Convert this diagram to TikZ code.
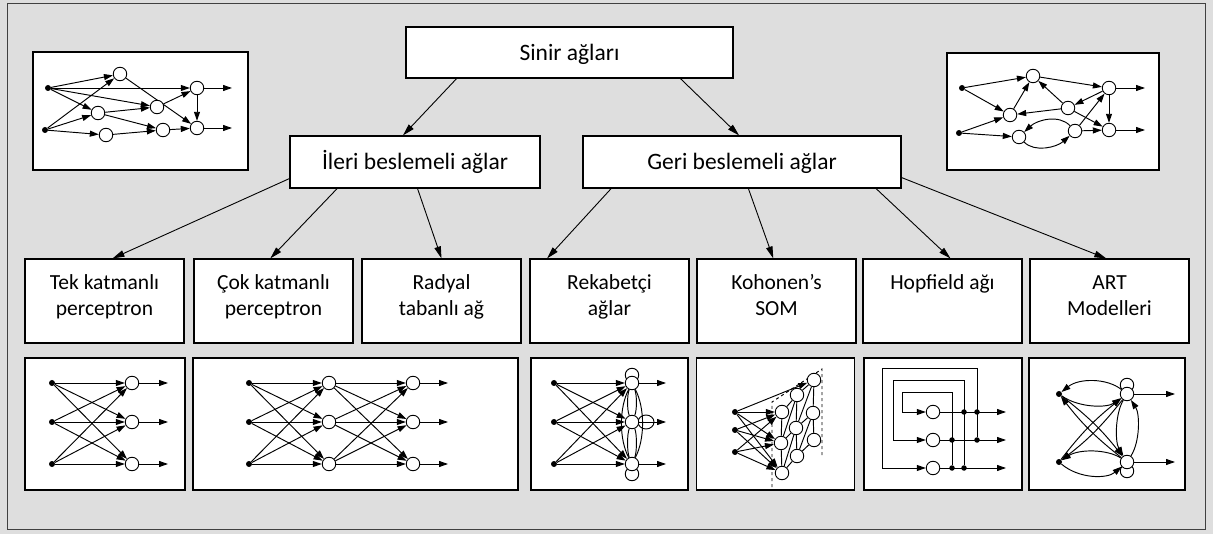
\documentclass[tikz,border=0pt]{standalone}
\usepackage{fontspec}
\setmainfont{Carlito}
\usetikzlibrary{arrows.meta,calc}
\definecolor{paper}{gray}{0.87}
\pgfdeclarelayer{back}
\pgfdeclarelayer{wires}
\pgfsetlayers{back,wires,main}
\tikzset{
  box/.style={draw=black, fill=white, line width=1.1pt, inner sep=0pt},
  toptxt/.style={font=\fontsize{23.5}{28}\selectfont, text height=15.1pt, text depth=0pt},
  lbltxt/.style={font=\fontsize{21.5}{26.4}\selectfont, align=center, inner sep=0pt, anchor=north},
  conn/.style={line width=0.9pt, -{Triangle[length=12pt,width=6.5pt]}},
  neu/.style={circle, draw, fill=white, line width=0.9pt, minimum size=13.5pt, inner sep=0pt},
  inp/.style={circle, fill=black, minimum size=6pt, inner sep=0pt},
  jdot/.style={circle, fill=black, minimum size=5.5pt, inner sep=0pt},
  ed/.style={line width=0.95pt, -{Triangle[length=9pt,width=6pt]}},
  ln/.style={line width=0.95pt},
}
\begin{document}
\begin{tikzpicture}[x=1pt,y=-1pt]
\useasboundingbox (0,0) rectangle (1213,534);

\begin{pgfonlayer}{back}
\fill[paper] (0,0) rectangle (1213,534);
\draw[line width=1pt, black!75] (7,4) rectangle (1205,529);

% hierarchy boxes
\node[box, toptxt, minimum width=327pt, minimum height=51pt] (root) at (569.5,52.5) {Sinir ağları};
\node[box, toptxt, minimum width=250pt, minimum height=52pt] (ileri) at (415,162) {İleri beslemeli ağlar};
\node[box, toptxt, minimum width=318pt, minimum height=52pt] (geri) at (742,162) {Geri beslemeli ağlar};

% category boxes
\foreach \n/\cx in {tek/104.5, cok/273.5, rad/441.5, rek/609.5, koh/776.5, hop/942.5, art/1109.5}
  \node[box, minimum width=159pt, minimum height=84pt] (\n) at (\cx,301) {};

% picture frames
\node[box, minimum width=215pt, minimum height=118pt] (ffbox) at (140.5,111) {};
\node[box, minimum width=212pt, minimum height=117pt] (fbbox) at (1053,111.5) {};
\node[box, minimum width=160pt, minimum height=132pt] (ptek) at (105,424) {};
\node[box, minimum width=325pt, minimum height=132pt] (pcok) at (355.5,424) {};
\node[box, minimum width=157pt, minimum height=132pt] (prek) at (609.5,424) {};
\node[box, minimum width=158pt, minimum height=132pt] (pkoh) at (775.5,424) {};
\node[box, minimum width=158pt, minimum height=132pt] (phop) at (943,424) {};
\node[box, minimum width=156pt, minimum height=132pt] (part) at (1107,424) {};
\end{pgfonlayer}

% category labels
\node[lbltxt] (ttek) at (104.5,270.5) {\strut Tek katmanlı\\perceptron};
\node[lbltxt] (tcok) at (273.5,270.5) {\strut Çok katmanlı\\perceptron};
\node[lbltxt] (trad) at (441.5,270.5) {\strut Radyal\\tabanlı ağ};
\node[lbltxt] (trek) at (609.5,270.5) {\strut Rekabetçi\\ağlar};
\node[lbltxt] (tkoh) at (776.5,270.5) {\strut Kohonen’s\\SOM};
\node[lbltxt] (thop) at (942.5,270.5) {\strut Hopfield ağı};
\node[lbltxt] (tart) at (1109.5,270.5) {\strut ART\\Modelleri};

% ---------- feed-forward sketch (top left) ----------
\node[inp] (fa1) at (48,88) {};
\node[inp] (fa2) at (45,130) {};
\node[neu] (fA) at (120,74) {};
\node[neu] (fB) at (98,113) {};
\node[neu] (fC) at (106,135) {};
\node[neu] (fD) at (157,107) {};
\node[neu] (fE) at (163,130) {};
\node[neu] (fF) at (197,88) {};
\node[neu] (fG) at (197,128) {};
\coordinate (fo1) at (232,88);
\coordinate (fo2) at (232,128);

% ---------- recurrent sketch (top right) ----------
\node[inp] (ba1) at (962,88) {};
\node[inp] (ba2) at (959,133) {};
\node[neu] (bP) at (1033,76) {};
\node[neu] (bQ) at (1010,115) {};
\node[neu] (bR) at (1068,108) {};
\node[neu] (bS) at (1019,137) {};
\node[neu] (bT) at (1075,131) {};
\node[neu] (bU) at (1109,88) {};
\node[neu] (bV) at (1109,130) {};
\coordinate (bo1) at (1145,88);
\coordinate (bo2) at (1145,130);

% ---------- single layer ----------
\foreach \k/\y in {1/383,2/422,3/464}{
  \node[inp] (ti\k) at (52,\y) {};
  \node[neu] (tn\k) at (132,\y) {};
  \coordinate (tq\k) at (168,\y);
}
% ---------- multi layer ----------
\foreach \k/\y in {1/383,2/422,3/464}{
  \node[inp] (ci\k) at (249,\y) {};
  \node[neu] (ch\k) at (329,\y) {};
  \node[neu] (cn\k) at (413,\y) {};
  \coordinate (cq\k) at (448,\y);
}
% ---------- competitive ----------
\foreach \k/\y in {1/383,2/422,3/464}{
  \node[inp] (ri\k) at (554,\y) {};
  \node[neu] (rn\k) at (632,\y) {};
  \coordinate (rq\k) at (666,\y);
}
% ---------- Kohonen SOM ----------
\node[inp] (ki1) at (735,412) {};
\node[inp] (ki2) at (735,430) {};
\node[inp] (ki3) at (735,452) {};
\node[neu] (k11) at (782,412) {};
\node[neu] (k12) at (781,443) {};
\node[neu] (k13) at (782,473) {};
\node[neu] (k21) at (797,395) {};
\node[neu] (k22) at (796,428) {};
\node[neu] (k23) at (797,456) {};
\node[neu] (k31) at (814,380) {};
\node[neu] (k32) at (813,413) {};
\node[neu] (k33) at (814,440) {};
\coordinate (kp1) at (772,487);
\coordinate (kp2) at (772,402);
\coordinate (kp3) at (822,369);
\coordinate (kp4) at (822,457);
% ---------- Hopfield ----------
\node[neu] (h1) at (933,412) {};
\node[neu] (h2) at (933,440) {};
\node[neu] (h3) at (933,468) {};
\node[jdot] (j1b) at (964,412) {};
\node[jdot] (j1c) at (977,412) {};
\node[jdot] (j2a) at (952,440) {};
\node[jdot] (j2c) at (977,440) {};
\node[jdot] (j3a) at (952,468) {};
\node[jdot] (j3b) at (964,468) {};
\coordinate (ho1) at (1006,412);
\coordinate (ho2) at (1006,440);
\coordinate (ho3) at (1006,468);
% ---------- ART ----------
\node[inp] (ad1) at (1059,394) {};
\node[inp] (ad2) at (1059,462) {};
\node[neu] (an1) at (1127,394) {};
\node[neu] (an2) at (1127,462) {};
\coordinate (ao1) at (1175,394);
\coordinate (ao2) at (1175,462);

\begin{pgfonlayer}{wires}
% hierarchy connectors
\draw[conn] ($(root.south west)!0.156!(root.south east)$) -- ($(ileri.north west)!0.452!(ileri.north east)$);
\draw[conn] ($(root.south west)!0.838!(root.south east)$) -- ($(geri.north west)!0.491!(geri.north east)$);
\draw[conn] ($(ileri.south west)+(0,-10)$) -- ($(tek.north west)!0.55!(tek.north east)$);
\draw[conn] ($(ileri.south west)!0.19!(ileri.south east)$) -- ($(cok.north west)!0.48!(cok.north east)$);
\draw[conn] ($(ileri.south west)!0.51!(ileri.south east)$) -- ($(rad.north west)!0.50!(rad.north east)$);
\draw[conn] ($(geri.south west)!0.09!(geri.south east)$) -- ($(rek.north west)!0.11!(rek.north east)$);
\draw[conn] ($(geri.south west)!0.52!(geri.south east)$) -- ($(koh.north west)!0.48!(koh.north east)$);
\draw[conn] ($(geri.south west)!0.92!(geri.south east)$) -- ($(hop.north west)!0.55!(hop.north east)$);
\draw[conn] ($(geri.south east)+(0,-11)$) -- ($(art.north west)!0.48!(art.north east)$);

% feed-forward sketch
\foreach \a/\b in {fa1/fA, fa1/fF, fa1/fD, fa1/fB, fa2/fA, fa2/fB, fa2/fC, fA/fG,
                   fB/fD, fB/fE, fC/fE, fD/fF, fE/fG, fF/fG, fF/fo1, fG/fo2}
  \draw[ed] (\a) -- (\b);

% recurrent sketch
\foreach \a/\b in {ba1/bP, ba1/bQ, ba2/bQ, ba2/bS, bQ/bP, bP/bU, bR/bP, bR/bQ,
                   bU/bR, bR/bV, bU/bV, bT/bU, bT/bV, bU/bo1, bV/bo2}
  \draw[ed] (\a) -- (\b);
\draw[ed] (bT) .. controls +(-16,-17) and +(18,-17) .. (bS);
\draw[ed] (bS) .. controls +(16,16) and +(-18,16) .. (bT);

% single layer
\foreach \i in {1,2,3}{
  \foreach \j in {1,2,3} \draw[ed] (ti\i) -- (tn\j);
  \draw[ed] (tn\i) -- (tq\i);
}
% multi layer
\foreach \i in {1,2,3}{
  \foreach \j in {1,2,3}{
    \draw[ed] (ci\i) -- (ch\j);
    \draw[ed] (ch\i) -- (cn\j);
  }
  \draw[ed] (cn\i) -- (cq\i);
}
% competitive
\draw[ln] (632,375) circle (6.75pt);
\draw[ln] (646,422) ellipse (8pt and 7pt);
\draw[ln] (632,474) circle (6.75pt);
\foreach \i in {1,2,3}{
  \foreach \j in {1,2,3} \draw[ed] (ri\i) -- (rn\j);
  \draw[ed] (rn\i) -- (rq\i);
}
\draw[ln] (rn1) .. controls +(-13,25) and +(-13,-25) .. (rn3);
\draw[ln] (rn1) .. controls +(13,25) and +(13,-25) .. (rn3);
\draw[ln] (rn1) .. controls +(-5,12) and +(-5,-12) .. (rn2);
\draw[ln] (rn1) .. controls +(5,12) and +(5,-12) .. (rn2);
\draw[ln] (rn2) .. controls +(-5,12) and +(-5,-12) .. (rn3);
\draw[ln] (rn2) .. controls +(5,12) and +(5,-12) .. (rn3);

% Kohonen
\draw[ln, dashed] (kp1) -- (kp2) -- (kp3) -- (kp4);
\foreach \i in {1,2,3}
  \foreach \j in {1,2,3} \draw[ed] (ki\i) -- (k1\j);
\draw[ed] (ki1) -- (k31);
\foreach \a/\b in {k11/k12, k12/k13, k21/k22, k22/k23, k31/k32, k32/k33,
                   k11/k21, k21/k31, k12/k22, k22/k32, k13/k23, k23/k33,
                   k12/k21, k22/k31, k13/k22, k23/k32}
  \draw[ln] (\a) -- (\b);

% Hopfield
\draw[ed] (h1) -- (ho1);
\draw[ed] (h2) -- (ho2);
\draw[ed] (h3) -- (ho3);
\draw[ed] (j3a) -- ++(0,-76) -| ([xshift=-31pt]h1.center) -- (h1);
\draw[ed] (j3b) -- ++(0,-88) -| ([xshift=-40pt]h2.center) -- (h2);
\draw[ed] (j2c) -- ++(0,-72) -| ([xshift=-51pt]h3.center) -- (h3);

% ART
\draw[ln] (1127,385) circle (6.75pt);
\draw[ln] (1127,471) circle (6.75pt);
\draw[ed] (an1) .. controls +(-20,-16) and +(20,-16) .. (ad1);
\draw[ed] (ad1) .. controls +(20,14) and +(-20,14) .. (an1);
\draw[ed] (an2) .. controls +(-20,-13) and +(20,-13) .. (ad2);
\draw[ed] (ad2) .. controls +(20,17) and +(-20,17) .. (an2);
\draw[ed] (ad1) to[bend left=7] (an2);
\draw[ed] (an2) to[bend left=7] (ad1);
\draw[ed] (ad2) to[bend left=7] (an1);
\draw[ed] (an1) to[bend left=7] (ad2);
\draw[ed] (an1) .. controls +(-12,20) and +(-12,-20) .. (an2);
\draw[ed] (an2) .. controls +(13,-20) and +(13,20) .. (an1);
\draw[ed] (an1) -- (ao1);
\draw[ed] (an2) -- (ao2);
\end{pgfonlayer}
\end{tikzpicture}
\end{document}
